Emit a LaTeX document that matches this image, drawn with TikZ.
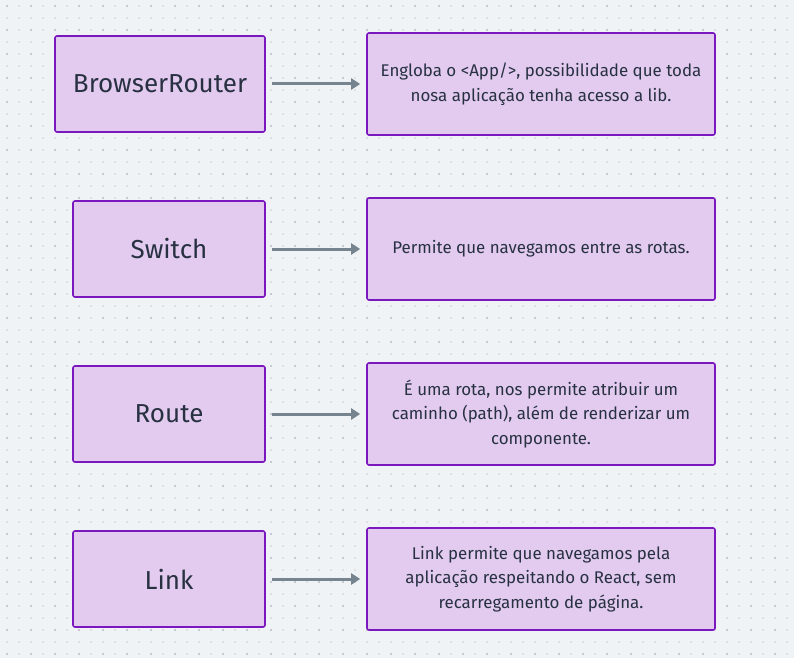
\documentclass[tikz,border=0pt]{standalone}
\usepackage{fontspec}
\setmainfont{Fira Sans}
\usetikzlibrary{arrows.meta}
\definecolor{bgc}{HTML}{F0F3F6}
\definecolor{dotl}{HTML}{DDE1E6}
\definecolor{dotd}{HTML}{C5CAD2}
\definecolor{boxfill}{HTML}{E2CBEF}
\definecolor{boxline}{HTML}{7A17BE}
\definecolor{txt}{HTML}{283142}
\definecolor{arr}{HTML}{76848F}
\begin{document}
\begin{tikzpicture}[x=1pt,y=-1pt,
  keybox/.style={draw=boxline,fill=boxfill,line width=1.6pt,rounded corners=2pt,
    minimum height=96pt,text=txt,font=\fontsize{26}{30}\selectfont,inner sep=0pt},
  descbox/.style={draw=boxline,fill=boxfill,line width=1.6pt,rounded corners=2pt,
    minimum width=348pt,minimum height=102pt,text=txt,align=center,
    font=\fontsize{16.9}{24.5}\selectfont,inner sep=0pt},
  link/.style={draw=arr,line width=3pt,-{Triangle[length=9pt,width=11pt]}}]
\useasboundingbox (0,0) rectangle (794,658);
\fill[bgc] (0,0) rectangle (794,658);
\foreach \i in {0,...,66}{
  \foreach \j in {0,...,54}{
    \pgfmathtruncatemacro{\dk}{(mod(\i,2)==0)&&(mod(\j,2)==0)}
    \ifnum\dk=1
      \fill[dotd] ({7+12*\i-1},{6+12*\j-1}) rectangle ++(2,2);
    \else
      \fill[dotl] ({7+12*\i-1},{6+12*\j-1}) rectangle ++(2,2);
    \fi
  }
}
\node[keybox,minimum width=210pt] (k1) at (160,84) {BrowserRouter};
\node[keybox,minimum width=192pt] (k2) at (169,249) {Switch};
\node[keybox,minimum width=192pt] (k3) at (169,414) {Route};
\node[keybox,minimum width=192pt] (k4) at (169,579) {Link};
\node[descbox] (d1) at (541,84) {Engloba o <App/>, possibilidade que toda\\nosa aplicação tenha acesso a lib.};
\node[descbox] (d2) at (541,249) {Permite que navegamos entre as rotas.};
\node[descbox] (d3) at (541,414) {É uma rota, nos permite atribuir um\\caminho (path), além de renderizar um\\componente.};
\node[descbox] (d4) at (541,579) {Link permite que navegamos pela\\aplicação respeitando o React, sem\\recarregamento de página.};
\foreach \n in {1,2,3,4}{
  \draw[link] ([xshift=6pt]k\n.east) -- ([xshift=-6pt]d\n.west);
}
\end{tikzpicture}
\end{document}
